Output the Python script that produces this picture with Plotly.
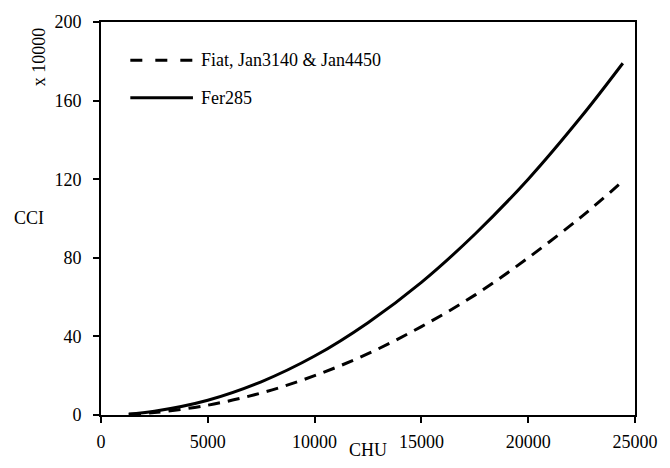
import plotly.graph_objects as go

# Data
chu = [1300, 2500, 5000, 7500, 10000, 12500, 15000, 17500, 20000, 22500, 24430]
cci_fer285 = [0.5, 1.9, 7.5, 16.9, 30.0, 47.0, 67.5, 92.0, 120.0, 152.0, 179.0]
cci_fiat = [0.3, 1.25, 5.0, 11.2, 20.0, 31.2, 45.0, 61.0, 80.0, 101.0, 119.0]

series_names = ["Fiat, Jan3140 & Jan4450", "Fer285"]
x_ticks = [0, 5000, 10000, 15000, 20000, 25000]
y_ticks = [0, 40, 80, 120, 160, 200]

FONT = "Liberation Serif"
fs = 18

fig = go.Figure()
fig.add_trace(go.Scatter(x=chu, y=cci_fiat, mode="lines", name=series_names[0],
                         line=dict(color="black", width=3, dash="12px,8px", shape="spline")))
fig.add_trace(go.Scatter(x=chu, y=cci_fer285, mode="lines", name=series_names[1],
                         line=dict(color="black", width=3, shape="spline")))

axis_common = dict(showgrid=False, zeroline=False, showline=True, linecolor="black",
                   linewidth=2, mirror=True, ticks="outside", ticklen=6, tickwidth=2,
                   tickcolor="black", ticklabeloverflow="allow",
                   tickfont=dict(family=FONT, size=fs, color="black"))

fig.update_xaxes(range=[0, 25000], tickvals=x_ticks, ticktext=[str(v) for v in x_ticks],
                 ticklabelstandoff=3, **axis_common)
fig.update_yaxes(range=[0, 200], tickvals=y_ticks, ticktext=[str(v) for v in y_ticks],
                 ticklabelstandoff=8, **axis_common)

# Manual legend (decorations in paper coordinates)
shapes = [
    dict(type="line", xref="paper", yref="paper", x0=0.0549, x1=0.1722, y0=0.9026, y1=0.9026,
         line=dict(color="black", width=3, dash="12px,13px")),
    dict(type="line", xref="paper", yref="paper", x0=0.0549, x1=0.1722, y0=0.807, y1=0.807,
         line=dict(color="black", width=3)),
]
annotations = [
    dict(text=series_names[0], xref="paper", yref="paper", x=0.1844, y=0.9026,
         xanchor="left", yanchor="middle", showarrow=False, font=dict(family=FONT, size=fs, color="black")),
    dict(text=series_names[1], xref="paper", yref="paper", x=0.1844, y=0.807,
         xanchor="left", yanchor="middle", showarrow=False, font=dict(family=FONT, size=fs, color="black")),
    dict(text="CHU", xref="paper", yref="paper", x=0.5, y=-0.0886,
         xanchor="center", yanchor="middle", showarrow=False, font=dict(family=FONT, size=fs, color="black")),
    dict(text="CCI", xref="paper", yref="paper", x=-0.134, y=0.5006,
         xanchor="center", yanchor="middle", showarrow=False, font=dict(family=FONT, size=fs, color="black")),
    dict(text="x 10000", xref="paper", yref="paper", x=-0.1163, y=0.9126, textangle=-90,
         xanchor="center", yanchor="middle", showarrow=False, font=dict(family=FONT, size=fs, color="black")),
]

fig.update_layout(width=670, height=468, margin=dict(l=101, r=23, t=15, b=52.5),
                  plot_bgcolor="white", paper_bgcolor="white", showlegend=False,
                  shapes=shapes, annotations=annotations,
                  font=dict(family=FONT, size=fs, color="black"))

# Remove the browser's default 8px body margin so the figure sits at the window origin
fig.write_html("out.html", config={"displayModeBar": False},
               post_script="document.body.style.margin='0px';document.body.style.overflow='hidden';")
